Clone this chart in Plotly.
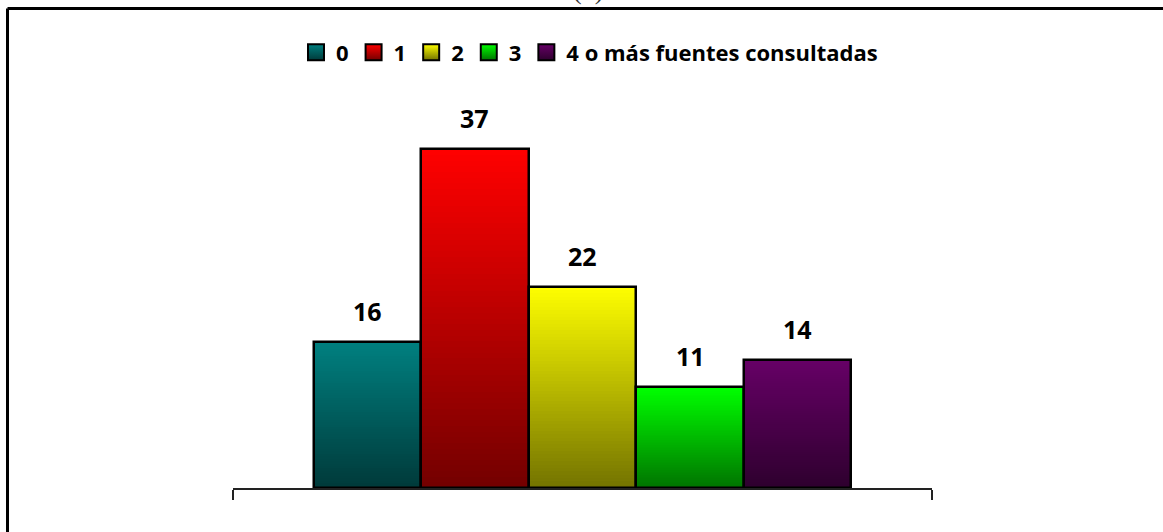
import plotly.graph_objects as go

# data
series = ["0", "1", "2", "3", "4 o más fuentes consultadas"]
values = [16, 37, 22, 11, 14]
top_colors = [(0, 128, 128), (255, 0, 0), (255, 255, 0), (0, 255, 0), (102, 0, 102)]

DARK = 0.45       # bottom of each bar is this fraction of the top colour
STEPS = 60        # slices used to fake the vertical gradient
FONT = "Open Sans"


def shade(rgb, f):
    return "rgb({},{},{})".format(*[int(round(c * f)) for c in rgb])


positions = list(range(len(values)))
fig = go.Figure()

# gradient: each level k is one slice of every bar, from the bottom up
for k in range(STEPS):
    f = DARK + (1 - DARK) * (k + 0.5) / STEPS
    fig.add_trace(go.Bar(
        x=positions,
        y=[v / STEPS for v in values],
        base=[v * k / STEPS for v in values],
        width=1,
        marker=dict(color=[shade(c, f) for c in top_colors], line=dict(width=0)),
        showlegend=False,
        hoverinfo="skip",
    ))

# black outline on top of the slices
fig.add_trace(go.Bar(
    x=positions,
    y=values,
    base=0,
    width=1,
    marker=dict(color="rgba(0,0,0,0)", line=dict(color="black", width=2.5)),
    showlegend=False,
    hoverinfo="skip",
))

# legend entries (no points drawn, only the legend swatch)
for name, c in zip(series, top_colors):
    fig.add_trace(go.Scatter(
        x=[None],
        y=[None],
        mode="markers",
        name=name,
        marker=dict(
            symbol="square", size=18, color=shade(c, 1.0),
            gradient=dict(type="vertical", color=shade(c, DARK)),
            line=dict(color="black", width=2),
        ),
        hoverinfo="skip",
    ))

for p, v in zip(positions, values):
    fig.add_annotation(
        x=p, y=v, text=f"<b>{v}</b>", showarrow=False,
        yanchor="middle", yshift=31,
        font=dict(family=FONT, size=25, color="black"),
    )

# outer frame (top and left edges only are inside the picture)
fig.add_shape(type="line", xref="paper", yref="paper",
              x0=-0.3226, x1=1.4, y0=1.310, y1=1.310,
              line=dict(color="black", width=3))
fig.add_shape(type="line", xref="paper", yref="paper",
              x0=-0.3226, x1=-0.3226, y0=1.310, y1=-0.3,
              line=dict(color="black", width=3))

# caption cut off at the top edge
fig.add_annotation(
    xref="paper", yref="paper", x=0.508, y=1.313, yanchor="bottom",
    text="(b)", showarrow=False,
    font=dict(family="Liberation Serif", size=26, color="#333333"),
)

fig.update_layout(
    width=1163,
    height=532,
    barmode="overlay",
    bargap=0,
    paper_bgcolor="white",
    plot_bgcolor="white",
    margin=dict(l=233, r=231, t=122, b=44),
    font=dict(family=FONT, color="black"),
    legend=dict(
        orientation="h", x=0.51, xanchor="center", y=1.19, yanchor="middle",
        font=dict(family=FONT, size=22, color="black", weight="bold"),
        itemwidth=30, traceorder="normal",
    ),
    xaxis=dict(
        range=[-1.25, 5.25],
        showgrid=False, zeroline=False,
        showline=True, linecolor="#222222", linewidth=2,
        tickmode="array", tickvals=[-1.25, 5.25], ticktext=["", ""],
        ticks="outside", ticklen=10, tickwidth=2, tickcolor="#222222",
        fixedrange=True,
    ),
    yaxis=dict(range=[0, 40], visible=False, fixedrange=True),
    showlegend=True,
)

fig.write_html(
    "out.html",
    config={"displayModeBar": False},
    post_script="document.body.style.margin = '0';",
)
